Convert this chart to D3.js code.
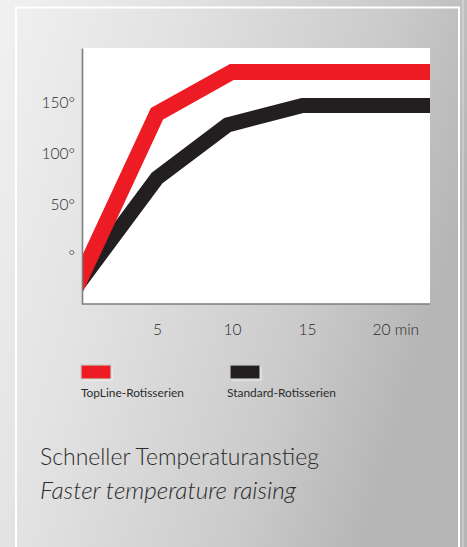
<!DOCTYPE html>
<html>
<head>
<meta charset="utf-8">
<script src="https://cdn.jsdelivr.net/npm/d3@7"></script>
<style>
  html, body { margin: 0; padding: 0; }
  body { width: 467px; height: 547px; overflow: hidden; }
  svg { display: block; }
  text { font-family: Lato, "Open Sans", sans-serif; fill: #2b2b2b; }
</style>
</head>
<body>
<svg id="chart" width="467" height="547"></svg>
<script>
// ---- data ----
const minutes = [0, 5, 10, 23.2];
const topLineTemp = [-19, 139, 180, 180];
const standardMinutes = [0, 5, 9.7, 14.7, 23.2];
const standardTemp = [-23, 76, 128, 147, 147];

const xTicks = [5, 10, 15, 20];
const xTickLabels = ["5", "10", "15", "20 min"];
const yTicks = [0, 50, 100, 150];
const yTickLabels = ["°", "50°", "100°", "150°"];

const seriesNames = ["TopLine-Rotisserien", "Standard-Rotisserien"];
const seriesColors = ["#ed1c24", "#231f20"];
const title = "Schneller Temperaturanstieg";
const subtitle = "Faster temperature raising";

// ---- layout ----
const W = 467, H = 547;
const plot = { left: 82, top: 48, right: 430, bottom: 304 };

const svg = d3.select("#chart");
const defs = svg.append("defs");

const bg = defs.append("linearGradient").attr("id", "bg")
  .attr("x1", "0").attr("y1", "0").attr("x2", "1").attr("y2", "0.35");
bg.append("stop").attr("offset", "0").attr("stop-color", "#f1f1f1");
bg.append("stop").attr("offset", "0.35").attr("stop-color", "#e2e2e2");
bg.append("stop").attr("offset", "0.75").attr("stop-color", "#cbcbcb");
bg.append("stop").attr("offset", "1").attr("stop-color", "#b6b6b6");

svg.append("rect").attr("width", W).attr("height", H).attr("fill", "url(#bg)");

// frame
svg.append("rect").attr("x", 16).attr("y", 7.5).attr("width", 443).attr("height", 700)
  .attr("fill", "none").attr("stroke", "#ffffff").attr("stroke-width", 2);
svg.append("line").attr("x1", 463).attr("x2", 463).attr("y1", 0).attr("y2", H)
  .attr("stroke", "#ffffff").attr("stroke-opacity", 0.5).attr("stroke-width", 1);

// plot background
svg.append("rect").attr("x", plot.left).attr("y", plot.top)
  .attr("width", plot.right - plot.left).attr("height", plot.bottom - plot.top)
  .attr("fill", "#ffffff");

const x = d3.scaleLinear().domain([0, 23.2]).range([plot.left, plot.right]);
const y = d3.scaleLinear().domain([-47.5, 203.4]).range([plot.bottom, plot.top]);

defs.append("clipPath").attr("id", "clip").append("rect")
  .attr("x", plot.left).attr("y", plot.top)
  .attr("width", plot.right - plot.left).attr("height", plot.bottom - plot.top);

// extend the first segment backwards so the clip (not the cap) cuts the stroke at the axis
function withLead(xs, ys) {
  const pts = xs.map((m, i) => [m, ys[i]]);
  const [p0, p1] = pts;
  const lead = [p0[0] - (p1[0] - p0[0]) * 0.3, p0[1] - (p1[1] - p0[1]) * 0.3];
  return [lead, ...pts];
}

const line = d3.line().x(d => x(d[0])).y(d => y(d[1])).curve(d3.curveLinear);

const g = svg.append("g").attr("clip-path", "url(#clip)");
g.append("path")
  .datum(withLead(standardMinutes, standardTemp))
  .attr("d", line).attr("fill", "none")
  .attr("stroke", seriesColors[1]).attr("stroke-width", 15)
  .attr("stroke-linejoin", "miter");
g.append("path")
  .datum(withLead(minutes, topLineTemp))
  .attr("d", line).attr("fill", "none")
  .attr("stroke", seriesColors[0]).attr("stroke-width", 16)
  .attr("stroke-linejoin", "miter");

// axes
const yAxis = d3.axisLeft(y).tickValues(yTicks)
  .tickFormat((d, i) => yTickLabels[i]).tickSize(0).tickSizeOuter(0).tickPadding(7);
const ya = svg.append("g").attr("transform", `translate(${plot.left},0)`).call(yAxis);
ya.select(".domain").attr("stroke", "#7d7d7d").attr("stroke-width", 1.6);
ya.selectAll("text").attr("font-size", 15.5).attr("fill", "#2b2b2b")
  .attr("font-family", "Lato, sans-serif").attr("font-weight", 300);

const xAxis = d3.axisBottom(x).tickValues(xTicks)
  .tickFormat((d, i) => xTickLabels[i]).tickSize(0).tickSizeOuter(0).tickPadding(20);
const xa = svg.append("g").attr("transform", `translate(0,${plot.bottom})`).call(xAxis);
xa.select(".domain").attr("stroke", "#7d7d7d").attr("stroke-width", 1.6)
  .attr("d", `M${plot.left},0H${plot.right}`);
xa.selectAll("text").attr("font-size", 15.5).attr("fill", "#2b2b2b")
  .attr("font-family", "Lato, sans-serif").attr("font-weight", 300);
xa.selectAll(".tick text").filter((d, i) => i === xTicks.length - 1)
  .attr("text-anchor", "start").attr("dx", -10);

// fit a text element to a target width
function fitWidth(sel, target) {
  const node = sel.node();
  const fs = parseFloat(sel.attr("font-size"));
  const w = node.getComputedTextLength();
  if (w > 0) sel.attr("font-size", (fs * target / w).toFixed(2));
}

// legend
const legendX = [81, 230];
const legendTextX = [81, 227];
const legendTextW = [103, 109];
seriesNames.forEach((name, i) => {
  const lg = svg.append("g").attr("transform", `translate(${legendX[i]},365)`);
  lg.append("rect").attr("x", 1.5).attr("y", 1.5).attr("width", 30).attr("height", 14)
    .attr("fill", "#ffffff").attr("opacity", 0.8);
  lg.append("rect").attr("width", 30).attr("height", 14)
    .attr("fill", seriesColors[i]).attr("stroke", "#c9c9c9").attr("stroke-width", 1.2);
  const t = svg.append("text").attr("x", legendTextX[i]).attr("y", 397)
    .attr("font-size", 11).text(name);
  fitWidth(t, legendTextW[i]);
});

// title
const t1 = svg.append("text").attr("x", 40).attr("y", 465).attr("font-size", 22)
  .attr("font-weight", 300).attr("fill", "#2b2b2b").text(title);
fitWidth(t1, 279);
const t2 = svg.append("text").attr("x", 40).attr("y", 499).attr("font-size", 22)
  .attr("font-weight", 300).attr("font-style", "italic").attr("fill", "#2b2b2b").text(subtitle);
fitWidth(t2, 256);
</script>
</body>
</html>
